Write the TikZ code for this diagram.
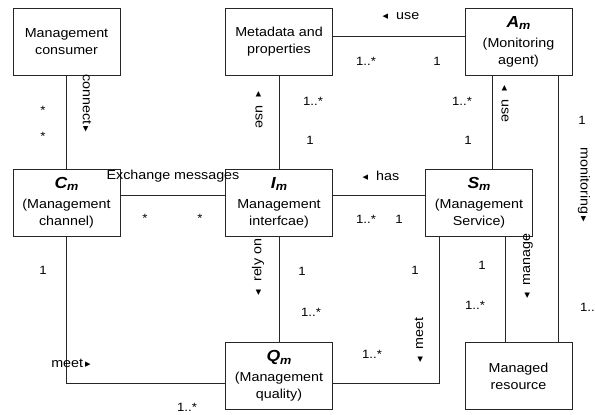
\documentclass[tikz,border=0pt]{standalone}
\usepackage{fontspec}
\setmainfont{Liberation Sans}[FakeStretch=1.1]
\newfontfamily\symfont{DejaVu Sans}
% small direction triangles for association names
\newcommand\tril{{\symfont\fontsize{11}{11}\selectfont ◂}}
\newcommand\trir{{\symfont\fontsize{11}{11}\selectfont ▸}}
% bold italic class symbol with subscript
\newcommand\ttl[2]{{\fontsize{16}{16}\selectfont\bfseries\itshape #1\raisebox{-0.3ex}{\fontsize{11.5}{11.5}\selectfont #2}}}
\begin{document}
\begin{tikzpicture}[x=1pt,y=-1pt,
  box/.style={draw=black!85, line width=0.8pt, minimum width=107pt, minimum height=67pt,
    align=center, inner sep=0pt, font=\fontsize{13}{17}\selectfont},
  lbl/.style={font=\fontsize{13}{15}\selectfont, inner sep=0pt},
  mult/.style={font=\fontsize{12}{13}\selectfont, inner sep=0pt},
  link/.style={draw=black!85, line width=0.8pt}]
\useasboundingbox[fill=white] (0,0) rectangle (595,415);

% classes
\node[box] (cons)  at (66.5,41.5)  {Management\\consumer};
\node[box] (meta)  at (279,41.5)   {Metadata and\\properties};
\node[box] (agent) at (518.5,41.5) {\ttl{A}{m}\\[3pt](Monitoring\\agent)};
\node[box] (chan)  at (66.5,202.5) {\ttl{C}{m}\\[3pt](Management\\channel)};
\node[box] (intf)  at (279,202.5)  {\ttl{I}{m}\\[3pt]Management\\interfcae)};
\node[box] (serv)  at (479,202.5)  {\ttl{S}{m}\\[3pt](Management\\Service)};
\node[box] (qual)  at (279,376)    {\ttl{Q}{m}\\[3pt](Management\\quality)};
\node[box] (res)   at (518.5,376)  {Managed\\resource};

% associations
\draw[link] (cons.south) -- (chan.north);
\draw[link] (meta.south) -- (intf.north);
\draw[link] ([yshift=5.5pt]meta.east) -- ([yshift=5.5pt]agent.west);
\draw[link] ([xshift=-26.5pt]agent.south) -- ([xshift=-26.5pt]agent.south |- serv.north);
\draw[link] ([xshift=39.5pt]agent.south) -- ([xshift=39.5pt]agent.south |- res.north);
\draw[link] ([yshift=7pt]chan.east) -- ([yshift=7pt]intf.west);
\draw[link] ([yshift=7pt]intf.east) -- ([yshift=7pt]serv.west);
\draw[link] (intf.south) -- (qual.north);
\draw[link] ([xshift=26pt]serv.south) -- ([xshift=26pt]serv.south |- res.north);
\draw[link] (chan.south) |- ([yshift=-7pt]qual.west);
\draw[link] ([xshift=-40pt]serv.south) |- ([yshift=-7pt]qual.east);

% association names
\node[lbl, rotate=-90] (l1) at (87,103) {connect\,\trir};
\node[lbl, rotate=-90] (l2) at (259,110) {\tril\ \ use};
\node[lbl] (l3) at (173,176) {Exchange messages};
\node[lbl] (l4) at (401,16) {\tril\ \ use};
\node[lbl, rotate=-90] (l5) at (505,104) {\tril\ \ use};
\node[lbl, rotate=-90] (l6) at (584,185) {monitoring\,\trir};
\node[lbl] (l7) at (381,176) {\tril\ \ has};
\node[lbl, rotate=90] (l8) at (258,267) {\tril\ \ rely on};
\node[lbl, rotate=90] (l9) at (528,266) {\tril\ \ manage};
\node[lbl, rotate=90] (l10) at (419,340) {\tril\ \ meet};
\node[lbl] (l11) at (71,363) {meet\,\trir};

% multiplicities
\node[mult] (m1) at (43,110) {*};
\node[mult] (m2) at (43,136) {*};
\node[mult] (m3) at (145,218) {*};
\node[mult] (m4) at (200,218) {*};
\node[mult] (m5) at (366,61) {1..*};
\node[mult] (m6) at (437,61) {1};
\node[mult] (m7) at (313,101) {1..*};
\node[mult] (m8) at (310,140) {1};
\node[mult] (m9) at (462,101) {1..*};
\node[mult] (m10) at (468,140) {1};
\node[mult] (m11) at (582,120) {1};
\node[mult] (m12) at (366,219) {1..*};
\node[mult] (m13) at (399,219) {1};
\node[mult] (m14) at (43,270) {1};
\node[mult] (m15) at (187,407) {1..*};
\node[mult] (m16) at (302,271) {1};
\node[mult] (m17) at (311,312) {1..*};
\node[mult] (m18) at (415,270) {1};
\node[mult] (m19) at (372,354) {1..*};
\node[mult] (m20) at (482,265) {1};
\node[mult] (m21) at (475,305) {1..*};
\node[mult] (m22) at (590,307) {1..*};
\end{tikzpicture}
\end{document}
